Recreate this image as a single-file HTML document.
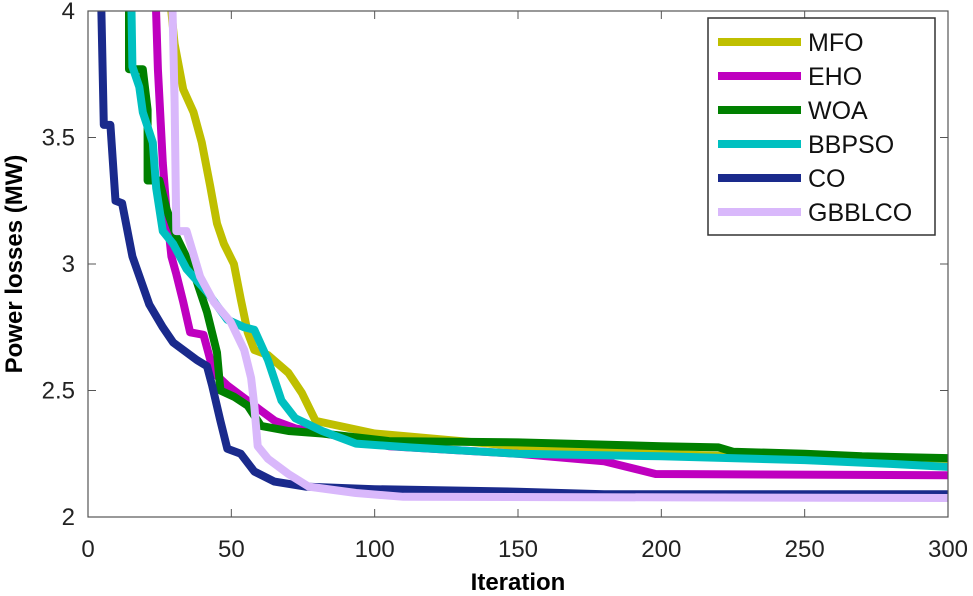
<!DOCTYPE html>
<html><head><meta charset="utf-8"><style>
html,body{margin:0;padding:0;background:#fff;}
svg{display:block;font-family:"Liberation Sans",Arial,sans-serif;}
</style></head><body>
<svg id="chart" width="973" height="596" viewBox="0 0 973 596">
<defs><clipPath id="clip"><rect x="88" y="11" width="860" height="506"/></clipPath></defs>
<rect x="0" y="0" width="973" height="596" fill="#fff"/>
<g id="axes"></g>
<g id="series" clip-path="url(#clip)"></g>
<rect x="88" y="11" width="860" height="506" fill="none" stroke="#555" stroke-width="1.2"/>
<text x="518" y="590" text-anchor="middle" font-size="24" font-weight="bold">Iteration</text>
<text transform="translate(22,264) rotate(-90)" text-anchor="middle" font-size="24" font-weight="bold">Power losses (MW)</text>
<g id="legend"></g>
</svg>
<script>
const xTicks=[0,50,100,150,200,250,300];
const yTicks=[2,2.5,3,3.5,4];
const yTickLabels=["2","2.5","3","3.5","4"];
const seriesNames=["MFO","EHO","WOA","BBPSO","CO","GBBLCO"];
const seriesColors=["#bfbf00","#bf00bf","#008000","#00c0c0","#1a2a8c","#d9b8fb"];
const mfoX=[27.3,30.2,33.2,36.8,39.7,42.6,45,47.4,50.9,53.3,55.7,58,62.8,69.9,74.6,79.4,87.6,100,150,200,250,300];
const mfoY=[4.2,3.87,3.69,3.60,3.48,3.31,3.16,3.08,3.0,2.86,2.73,2.66,2.64,2.57,2.49,2.38,2.36,2.33,2.28,2.25,2.23,2.215];
const ehoX=[23.2,24.4,26.1,27.3,29.1,30.8,33.2,35.6,40.3,43.9,48.6,54.5,60.4,65.2,72.3,87.6,105,150,180,198,300];
const ehoY=[4.2,3.77,3.40,3.22,3.03,2.96,2.85,2.73,2.72,2.57,2.52,2.47,2.42,2.38,2.35,2.32,2.28,2.25,2.22,2.17,2.165];
const woaX=[14.3,14.3,19.1,20.8,20.8,24.9,27.3,30.8,36.8,41.5,45,46.2,51,55.7,60.4,69.9,81.7,105,150,200,220,225,250,270,300];
const woaY=[4.2,3.77,3.77,3.61,3.33,3.33,3.22,3.11,2.97,2.81,2.65,2.50,2.475,2.44,2.36,2.34,2.33,2.30,2.295,2.28,2.275,2.258,2.25,2.24,2.233];
const bbpsoX=[14.9,15.5,17.9,19.1,22.6,23.8,26.1,29.7,34.4,41.5,48.6,54.5,58,62.8,67.5,72.3,81.7,93.5,112,150,200,250,280,300];
const bbpsoY=[4.2,3.78,3.70,3.6,3.48,3.30,3.13,3.08,2.98,2.89,2.78,2.75,2.74,2.62,2.46,2.39,2.34,2.29,2.275,2.25,2.24,2.225,2.21,2.198];
const coX=[4.3,5.5,7.8,9.6,11.9,15.5,21.4,26.1,29.7,38,41.5,43.3,46.2,48.6,53.3,58,65,75.8,100,150,180,300];
const coY=[4.2,3.55,3.55,3.25,3.24,3.03,2.84,2.75,2.69,2.62,2.596,2.52,2.38,2.27,2.25,2.18,2.14,2.12,2.11,2.10,2.09,2.09];
const gbbX=[29.1,30.2,30.8,34.4,39.1,43.9,49.8,54.5,56.9,58,59.2,62.8,69.9,77,93.5,110,300];
const gbbY=[4.2,3.64,3.13,3.13,2.95,2.85,2.77,2.66,2.55,2.44,2.28,2.23,2.17,2.12,2.095,2.08,2.075];
const allX=[mfoX,ehoX,woaX,bbpsoX,coX,gbbX];
const allY=[mfoY,ehoY,woaY,bbpsoY,coY,gbbY];

const X0=88,X1=948,Y0=517,Y1=11;
const sx=v=>X0+(v-0)/(300-0)*(X1-X0);
const sy=v=>Y0-(v-2)/(4-2)*(Y0-Y1);
const NS="http://www.w3.org/2000/svg";
const axes=document.getElementById('axes');
xTicks.forEach(t=>{
  const l=document.createElementNS(NS,'line');
  l.setAttribute('x1',sx(t));l.setAttribute('x2',sx(t));l.setAttribute('y1',Y0);l.setAttribute('y2',Y0-8);
  l.setAttribute('stroke','#555');
  
  
  axes.appendChild(l);
  const l2=document.createElementNS(NS,'line');
  l2.setAttribute('x1',sx(t));l2.setAttribute('x2',sx(t));l2.setAttribute('y1',Y1);l2.setAttribute('y2',Y1+8);
  l2.setAttribute('stroke','#555');
  
  
  axes.appendChild(l2);
  const tx=document.createElementNS(NS,'text');
  tx.setAttribute('x',sx(t));tx.setAttribute('y',557);tx.setAttribute('text-anchor','middle');tx.setAttribute('font-size','24');tx.setAttribute('fill','#222');
  tx.textContent=String(t);
  
  
  axes.appendChild(tx);
});
yTicks.forEach((t,i)=>{
  const l=document.createElementNS(NS,'line');
  l.setAttribute('x1',X0);l.setAttribute('x2',X0+8);l.setAttribute('y1',sy(t));l.setAttribute('y2',sy(t));
  l.setAttribute('stroke','#555');
  
  
  axes.appendChild(l);
  const l2=document.createElementNS(NS,'line');
  l2.setAttribute('x1',X1);l2.setAttribute('x2',X1-8);l2.setAttribute('y1',sy(t));l2.setAttribute('y2',sy(t));
  l2.setAttribute('stroke','#555');
  
  
  axes.appendChild(l2);
  const tx=document.createElementNS(NS,'text');
  tx.setAttribute('x',75);tx.setAttribute('y',sy(t)+8);tx.setAttribute('text-anchor','end');tx.setAttribute('font-size','24');tx.setAttribute('fill','#222');
  tx.textContent=yTickLabels[i];
  
  
  axes.appendChild(tx);
});
const sg=document.getElementById('series');
seriesNames.forEach((n,k)=>{
  const xs=allX[k],ys=allY[k];
  const d=xs.map((x,i)=>(i?'L':'M')+sx(x).toFixed(1)+','+sy(ys[i]).toFixed(1)).join(' ');
  const p=document.createElementNS(NS,'path');
  p.setAttribute('d',d);p.setAttribute('fill','none');p.setAttribute('stroke',seriesColors[k]);
  p.setAttribute('stroke-width','8');p.setAttribute('stroke-linejoin','round');
  
  
  sg.appendChild(p);
});
const lg=document.getElementById('legend');
const box=document.createElementNS(NS,'rect');
box.setAttribute('x',708);box.setAttribute('y',18);box.setAttribute('width',227);box.setAttribute('height',217);
box.setAttribute('fill','#fff');box.setAttribute('stroke','#333');box.setAttribute('stroke-width','1.5');


lg.appendChild(box);
seriesNames.forEach((n,k)=>{
  const y=42+k*34;
  const l=document.createElementNS(NS,'line');
  l.setAttribute('x1',718);l.setAttribute('x2',801);l.setAttribute('y1',y);l.setAttribute('y2',y);
  l.setAttribute('stroke',seriesColors[k]);l.setAttribute('stroke-width','8');
  
  
  lg.appendChild(l);
  const t=document.createElementNS(NS,'text');
  t.setAttribute('x',808);t.setAttribute('y',y+9);t.setAttribute('font-size','25');t.setAttribute('fill','#111');
  t.textContent=n;
  
  
  lg.appendChild(t);
});
</script>
</body></html>
